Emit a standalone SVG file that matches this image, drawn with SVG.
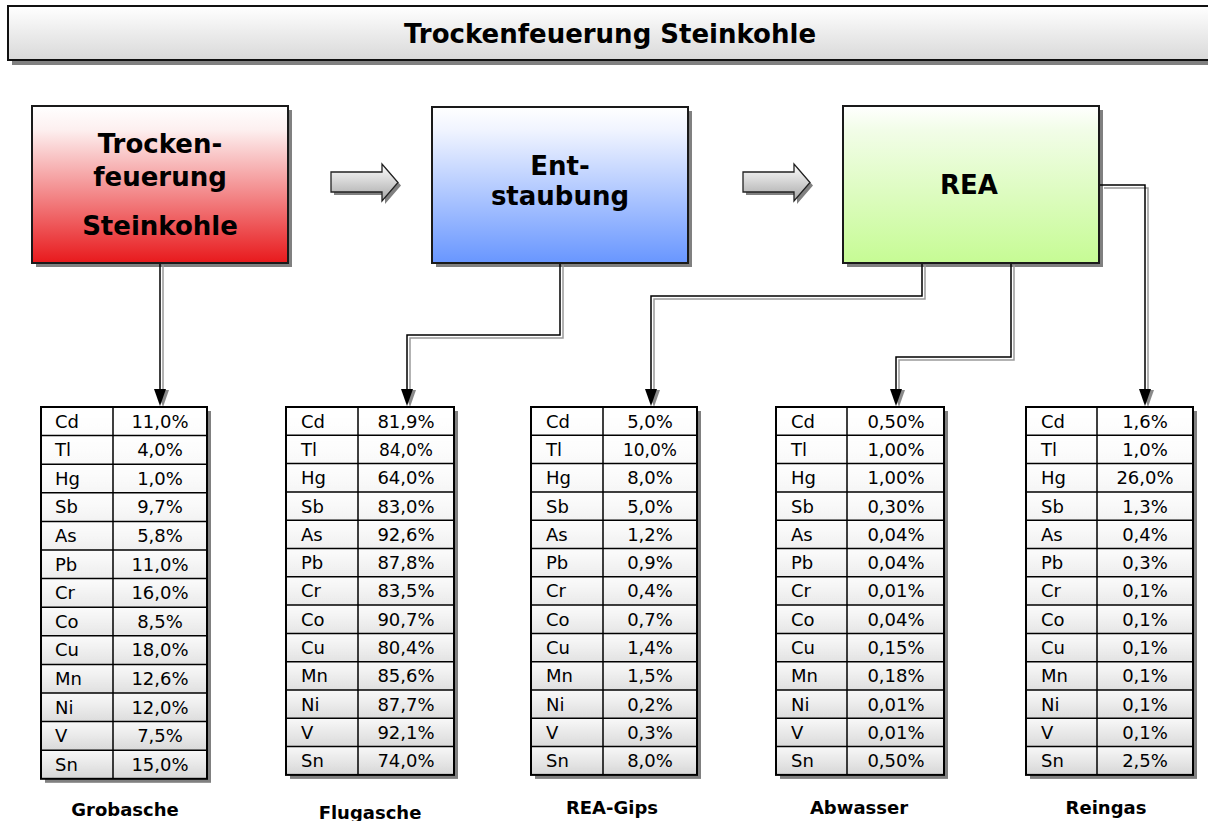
<svg xmlns="http://www.w3.org/2000/svg" width="1208" height="821" viewBox="0 0 1208 821">
<defs>
<linearGradient id="gTitle" x1="0" y1="0" x2="0" y2="1"><stop offset="0" stop-color="#ffffff"/><stop offset="1" stop-color="#d9d9d9"/></linearGradient>
<linearGradient id="gRed" x1="0" y1="0" x2="0" y2="1"><stop offset="0" stop-color="#ffffff"/><stop offset="0.15" stop-color="#fdf0f0"/><stop offset="1" stop-color="#e8191c"/></linearGradient>
<linearGradient id="gBlue" x1="0" y1="0" x2="0" y2="1"><stop offset="0" stop-color="#ffffff"/><stop offset="0.15" stop-color="#f0f4ff"/><stop offset="1" stop-color="#6896ff"/></linearGradient>
<linearGradient id="gGreen" x1="0" y1="0" x2="0" y2="1"><stop offset="0" stop-color="#ffffff"/><stop offset="0.15" stop-color="#f2fde8"/><stop offset="1" stop-color="#c6fb94"/></linearGradient>
<linearGradient id="gArrow" x1="0" y1="0" x2="0" y2="1"><stop offset="0" stop-color="#ffffff"/><stop offset="1" stop-color="#a6a6a6"/></linearGradient>
<linearGradient id="gTbl" x1="0" y1="0" x2="0" y2="1"><stop offset="0" stop-color="#ffffff"/><stop offset="1" stop-color="#d6d6d6"/></linearGradient>
<linearGradient id="gRowHl" x1="0" y1="0" x2="0" y2="1"><stop offset="0" stop-color="#ffffff" stop-opacity="0.8"/><stop offset="1" stop-color="#ffffff" stop-opacity="0"/></linearGradient>
<pattern id="rowsA" width="200" height="28.6" patternUnits="userSpaceOnUse"><rect width="200" height="28.6" fill="url(#gRowHl)"/></pattern>
<pattern id="rowsB" width="200" height="28.3" patternUnits="userSpaceOnUse"><rect width="200" height="28.3" fill="url(#gRowHl)"/></pattern>
<polygon id="blockArrow" points="331,172 382,172 382,164 398,182.5 382,201 382,192 331,192"/>
</defs>
<style>
.t{font-family:"DejaVu Sans","Liberation Sans",sans-serif;fill:#000}
.title{font-size:26px;font-weight:bold;text-anchor:middle}
.box{font-size:26px;font-weight:bold;text-anchor:middle}
.lbl{font-size:18px;font-weight:bold;text-anchor:middle}
.el{font-size:18px}
.v{font-size:18px;text-anchor:middle}
.sm{font-size:17px}
.sh{fill:#808080}
.bx{stroke:#1a1a1a;stroke-width:2}
.tb{fill:none;stroke:#000;stroke-width:2}
.gr{fill:none;stroke:#000;stroke-width:1.5}
.cb{fill:none;stroke:#000;stroke-width:1.5}
.cg{fill:none;stroke:#9a9a9a;stroke-width:1.5}
.ah{fill:#000}
.ahs{fill:#8a8a8a}
</style>
<rect width="1208" height="821" fill="#ffffff"/>

<g id="title">
<rect class="sh" x="12" y="10" width="1200" height="55"/>
<rect x="8" y="6" width="1210" height="54" fill="url(#gTitle)" stroke="#111" stroke-width="2"/>
<text class="t title" x="610" y="43">Trockenfeuerung Steinkohle</text>
</g>

<g id="node-trockenfeuerung">
<rect class="sh" x="36" y="110" width="256" height="157"/>
<rect class="bx" x="32" y="106" width="256" height="157" fill="url(#gRed)"/>
<text class="t box" x="160" y="153">Trocken-</text>
<text class="t box" x="160" y="186">feuerung</text>
<text class="t box" x="160" y="235">Steinkohle</text>
</g>

<g id="node-entstaubung">
<rect class="sh" x="436" y="111" width="256" height="156"/>
<rect class="bx" x="432" y="107" width="256" height="156" fill="url(#gBlue)"/>
<text class="t box" x="560" y="175">Ent-</text>
<text class="t box" x="560" y="205">staubung</text>
</g>

<g id="node-rea">
<rect class="sh" x="847" y="110" width="256" height="157"/>
<rect class="bx" x="843" y="106" width="256" height="157" fill="url(#gGreen)"/>
<text class="t box" x="969" y="194">REA</text>
</g>

<g id="connectors">
<g id="flow-arrow-1">
<use href="#blockArrow" transform="translate(3,3)" class="sh"/>
<use href="#blockArrow" fill="url(#gArrow)" stroke="#222" stroke-width="1.3"/>
</g>
<g id="flow-arrow-2" transform="translate(412,0)">
<use href="#blockArrow" transform="translate(3,3)" class="sh"/>
<use href="#blockArrow" fill="url(#gArrow)" stroke="#222" stroke-width="1.3"/>
</g>
<path class="cg" d="M163,265 V392"/>
<path class="cb" d="M160,264 V392"/>
<path class="cg" d="M563,265 V338 H410 V392"/>
<path class="cb" d="M560,264 V335 H407 V392"/>
<path class="cg" d="M925,265 V299 H654 V392"/>
<path class="cb" d="M922,264 V296 H651 V392"/>
<path class="cg" d="M1014,265 V360 H899 V392"/>
<path class="cb" d="M1011,264 V357 H896 V392"/>
<path class="cg" d="M1104,188 H1148 V392"/>
<path class="cb" d="M1100,185 H1145 V392"/>
<g id="heads">
<polygon class="ahs" points="157,390 169,390 163,407"/>
<polygon class="ah" points="154,389 166,389 160,406"/>
<polygon class="ahs" points="404,390 416,390 410,407"/>
<polygon class="ah" points="401,389 413,389 407,406"/>
<polygon class="ahs" points="648,390 660,390 654,407"/>
<polygon class="ah" points="645,389 657,389 651,406"/>
<polygon class="ahs" points="893,390 905,390 899,407"/>
<polygon class="ah" points="890,389 902,389 896,406"/>
<polygon class="ahs" points="1142,390 1154,390 1148,407"/>
<polygon class="ah" points="1139,389 1151,389 1145,406"/>
</g>
</g>

<g id="table-grobasche" transform="translate(41,407)">
<rect class="sh" x="4" y="4" width="166" height="371.8"/>
<rect x="0" y="0" width="166" height="371.8" fill="url(#gTbl)"/>
<rect x="0" y="0" width="166" height="371.8" fill="url(#rowsA)"/>
<path class="gr" d="M72,0V371.8M0,28.6H166M0,57.2H166M0,85.8H166M0,114.4H166M0,143H166M0,171.6H166M0,200.2H166M0,228.8H166M0,257.4H166M0,286H166M0,314.6H166M0,343.2H166"/>
<rect class="tb" x="0" y="0" width="166" height="371.8"/>
<g class="t el">
<text x="14" y="20.5">Cd</text><text x="14" y="49.1">Tl</text><text x="14" y="77.7">Hg</text><text x="14" y="106.3">Sb</text><text x="14" y="134.9">As</text><text x="14" y="163.5">Pb</text><text x="14" y="192.1">Cr</text><text x="14" y="220.7">Co</text><text x="14" y="249.3">Cu</text><text x="14" y="277.9">Mn</text><text x="14" y="306.5">Ni</text><text x="14" y="335.1">V</text><text x="14" y="363.7">Sn</text>
</g>
<g class="t v">
<text x="119" y="20.5">11,0%</text><text x="119" y="49.1">4,0%</text><text x="119" y="77.7">1,0%</text><text x="119" y="106.3">9,7%</text><text x="119" y="134.9">5,8%</text><text x="119" y="163.5">11,0%</text><text x="119" y="192.1">16,0%</text><text x="119" y="220.7">8,5%</text><text x="119" y="249.3">18,0%</text><text x="119" y="277.9">12,6%</text><text x="119" y="306.5">12,0%</text><text x="119" y="335.1">7,5%</text><text x="119" y="363.7">15,0%</text>
</g>
<text class="t lbl" x="84" y="409">Grobasche</text>
</g>

<g id="table-flugasche" transform="translate(286,407)">
<rect class="sh" x="4" y="4" width="168" height="367.9"/>
<rect x="0" y="0" width="168" height="367.9" fill="url(#gTbl)"/>
<rect x="0" y="0" width="168" height="367.9" fill="url(#rowsB)"/>
<path class="gr" d="M72,0V367.9M0,28.3H168M0,56.6H168M0,84.9H168M0,113.2H168M0,141.5H168M0,169.8H168M0,198.1H168M0,226.4H168M0,254.7H168M0,283H168M0,311.3H168M0,339.6H168"/>
<rect class="tb" x="0" y="0" width="168" height="367.9"/>
<g class="t el">
<text x="15" y="20.6">Cd</text><text x="15" y="48.9">Tl</text><text x="15" y="77.2">Hg</text><text x="15" y="105.5">Sb</text><text x="15" y="133.8">As</text><text x="15" y="162.1">Pb</text><text x="15" y="190.4">Cr</text><text x="15" y="218.7">Co</text><text x="15" y="247">Cu</text><text x="15" y="275.3">Mn</text><text x="15" y="303.6">Ni</text><text x="15" y="331.9">V</text><text x="15" y="360.2">Sn</text>
</g>
<g class="t v">
<text x="120" y="20.6">81,9%</text><text class="sm" x="120" y="48.9">84,0%</text><text x="120" y="77.2">64,0%</text><text x="120" y="105.5">83,0%</text><text x="120" y="133.8">92,6%</text><text x="120" y="162.1">87,8%</text><text x="120" y="190.4">83,5%</text><text x="120" y="218.7">90,7%</text><text x="120" y="247">80,4%</text><text x="120" y="275.3">85,6%</text><text x="120" y="303.6">87,7%</text><text x="120" y="331.9">92,1%</text><text x="120" y="360.2">74,0%</text>
</g>
<text class="t lbl" x="84" y="412">Flugasche</text>
</g>

<g id="table-rea-gips" transform="translate(531,407)">
<rect class="sh" x="4" y="4" width="166" height="367.9"/>
<rect x="0" y="0" width="166" height="367.9" fill="url(#gTbl)"/>
<rect x="0" y="0" width="166" height="367.9" fill="url(#rowsB)"/>
<path class="gr" d="M72,0V367.9M0,28.3H166M0,56.6H166M0,84.9H166M0,113.2H166M0,141.5H166M0,169.8H166M0,198.1H166M0,226.4H166M0,254.7H166M0,283H166M0,311.3H166M0,339.6H166"/>
<rect class="tb" x="0" y="0" width="166" height="367.9"/>
<g class="t el">
<text x="15" y="20.6">Cd</text><text x="15" y="48.9">Tl</text><text x="15" y="77.2">Hg</text><text x="15" y="105.5">Sb</text><text x="15" y="133.8">As</text><text x="15" y="162.1">Pb</text><text x="15" y="190.4">Cr</text><text x="15" y="218.7">Co</text><text x="15" y="247">Cu</text><text x="15" y="275.3">Mn</text><text x="15" y="303.6">Ni</text><text x="15" y="331.9">V</text><text x="15" y="360.2">Sn</text>
</g>
<g class="t v">
<text x="119" y="20.6">5,0%</text><text class="sm" x="119" y="48.9">10,0%</text><text x="119" y="77.2">8,0%</text><text x="119" y="105.5">5,0%</text><text x="119" y="133.8">1,2%</text><text x="119" y="162.1">0,9%</text><text x="119" y="190.4">0,4%</text><text x="119" y="218.7">0,7%</text><text x="119" y="247">1,4%</text><text x="119" y="275.3">1,5%</text><text x="119" y="303.6">0,2%</text><text x="119" y="331.9">0,3%</text><text x="119" y="360.2">8,0%</text>
</g>
<text class="t lbl" x="81" y="407">REA-Gips</text>
</g>

<g id="table-abwasser" transform="translate(776,407)">
<rect class="sh" x="4" y="4" width="168" height="367.9"/>
<rect x="0" y="0" width="168" height="367.9" fill="url(#gTbl)"/>
<rect x="0" y="0" width="168" height="367.9" fill="url(#rowsB)"/>
<path class="gr" d="M71,0V367.9M0,28.3H168M0,56.6H168M0,84.9H168M0,113.2H168M0,141.5H168M0,169.8H168M0,198.1H168M0,226.4H168M0,254.7H168M0,283H168M0,311.3H168M0,339.6H168"/>
<rect class="tb" x="0" y="0" width="168" height="367.9"/>
<g class="t el">
<text x="15" y="20.6">Cd</text><text x="15" y="48.9">Tl</text><text x="15" y="77.2">Hg</text><text x="15" y="105.5">Sb</text><text x="15" y="133.8">As</text><text x="15" y="162.1">Pb</text><text x="15" y="190.4">Cr</text><text x="15" y="218.7">Co</text><text x="15" y="247">Cu</text><text x="15" y="275.3">Mn</text><text x="15" y="303.6">Ni</text><text x="15" y="331.9">V</text><text x="15" y="360.2">Sn</text>
</g>
<g class="t v">
<text x="120" y="20.6">0,50%</text><text x="120" y="48.9">1,00%</text><text x="120" y="77.2">1,00%</text><text x="120" y="105.5">0,30%</text><text x="120" y="133.8">0,04%</text><text x="120" y="162.1">0,04%</text><text x="120" y="190.4">0,01%</text><text x="120" y="218.7">0,04%</text><text x="120" y="247">0,15%</text><text x="120" y="275.3">0,18%</text><text x="120" y="303.6">0,01%</text><text x="120" y="331.9">0,01%</text><text x="120" y="360.2">0,50%</text>
</g>
<text class="t lbl" x="83" y="407">Abwasser</text>
</g>

<g id="table-reingas" transform="translate(1026,407)">
<rect class="sh" x="4" y="4" width="167" height="367.9"/>
<rect x="0" y="0" width="167" height="367.9" fill="url(#gTbl)"/>
<rect x="0" y="0" width="167" height="367.9" fill="url(#rowsB)"/>
<path class="gr" d="M71,0V367.9M0,28.3H167M0,56.6H167M0,84.9H167M0,113.2H167M0,141.5H167M0,169.8H167M0,198.1H167M0,226.4H167M0,254.7H167M0,283H167M0,311.3H167M0,339.6H167"/>
<rect class="tb" x="0" y="0" width="167" height="367.9"/>
<g class="t el">
<text x="15" y="20.6">Cd</text><text x="15" y="48.9">Tl</text><text x="15" y="77.2">Hg</text><text x="15" y="105.5">Sb</text><text x="15" y="133.8">As</text><text x="15" y="162.1">Pb</text><text x="15" y="190.4">Cr</text><text x="15" y="218.7">Co</text><text x="15" y="247">Cu</text><text x="15" y="275.3">Mn</text><text x="15" y="303.6">Ni</text><text x="15" y="331.9">V</text><text x="15" y="360.2">Sn</text>
</g>
<g class="t v">
<text x="119" y="20.6">1,6%</text><text x="119" y="48.9">1,0%</text><text x="119" y="77.2">26,0%</text><text x="119" y="105.5">1,3%</text><text x="119" y="133.8">0,4%</text><text x="119" y="162.1">0,3%</text><text x="119" y="190.4">0,1%</text><text x="119" y="218.7">0,1%</text><text x="119" y="247">0,1%</text><text x="119" y="275.3">0,1%</text><text x="119" y="303.6">0,1%</text><text x="119" y="331.9">0,1%</text><text x="119" y="360.2">2,5%</text>
</g>
<text class="t lbl" x="80" y="407">Reingas</text>
</g>
</svg>
